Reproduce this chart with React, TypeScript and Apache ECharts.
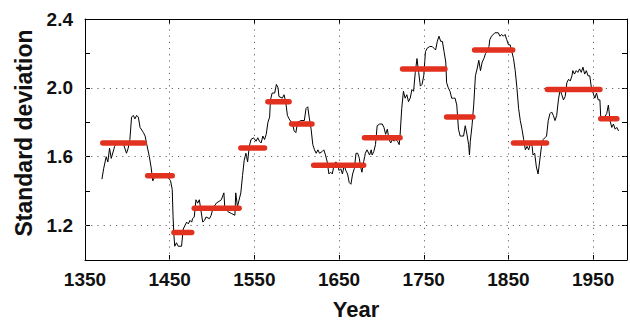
import React, { useEffect, useRef } from "react";
import * as echarts from "echarts";

// Running standard deviation (black line)
const years: number[] = [
  1370, 1372, 1375, 1377, 1379, 1381, 1385, 1389, 1395, 1399, 1401, 1403, 1405, 1407, 1409, 1411, 1413, 1415, 1419, 1421,
  1423, 1426, 1428, 1430, 1432, 1440, 1448, 1451, 1453, 1454, 1455, 1456, 1458, 1460, 1464, 1466, 1468, 1470, 1472, 1474,
  1476, 1477, 1479, 1481, 1483, 1485, 1489, 1491, 1493, 1497, 1499, 1501, 1505, 1511, 1514, 1515, 1519, 1523, 1527, 1528,
  1530, 1534, 1536, 1538, 1540, 1542, 1544, 1546, 1549, 1552, 1554, 1556, 1558, 1560, 1562, 1564, 1566, 1568, 1569, 1571,
  1574, 1576, 1578, 1579, 1583, 1585, 1587, 1589, 1591, 1595, 1597, 1599, 1601, 1605, 1609, 1611, 1613, 1615, 1617, 1619,
  1621, 1623, 1625, 1627, 1630, 1632, 1634, 1636, 1638, 1640, 1642, 1644, 1646, 1648, 1650, 1652, 1654, 1656, 1658, 1660,
  1662, 1664, 1666, 1668, 1670, 1672, 1674, 1675, 1677, 1679, 1681, 1683, 1686, 1688, 1689, 1691, 1693, 1695, 1698, 1701,
  1703, 1705, 1707, 1709, 1711, 1713, 1715, 1717, 1719, 1721, 1722, 1724, 1726, 1728, 1730, 1732, 1734, 1736, 1738, 1740,
  1742, 1744, 1746, 1748, 1750, 1752, 1754, 1757, 1760, 1762, 1764, 1766, 1768, 1770, 1772, 1774, 1776, 1777, 1779, 1781,
  1783, 1785, 1787, 1789, 1791, 1793, 1795, 1797, 1799, 1801, 1803, 1804, 1805, 1807, 1809, 1811, 1813, 1815, 1817, 1819,
  1821, 1823, 1825, 1827, 1828, 1830, 1834, 1838, 1840, 1842, 1844, 1846, 1848, 1850, 1852, 1854, 1856, 1858, 1860, 1862,
  1864, 1866, 1868, 1870, 1872, 1874, 1876, 1878, 1879, 1881, 1883, 1885, 1887, 1889, 1891, 1893, 1895, 1897, 1899, 1901,
  1903, 1905, 1907, 1909, 1911, 1913, 1915, 1917, 1919, 1921, 1923, 1925, 1926, 1928, 1930, 1932, 1934, 1936, 1938, 1940,
  1942, 1944, 1946, 1948, 1950, 1952, 1954, 1956, 1958, 1959, 1962, 1966, 1968, 1970, 1972, 1974, 1976, 1978, 1980,
];
const stdValues: number[] = [
  1.47, 1.53, 1.60, 1.57, 1.65, 1.59, 1.66, 1.69, 1.68, 1.62, 1.65, 1.70, 1.83, 1.84, 1.82, 1.84, 1.83, 1.77, 1.74, 1.72,
  1.67, 1.60, 1.54, 1.46, 1.48, 1.48, 1.48, 1.46, 1.41, 1.25, 1.14, 1.08, 1.10, 1.08, 1.08, 1.18, 1.20, 1.22, 1.21, 1.23,
  1.22, 1.24, 1.25, 1.35, 1.33, 1.35, 1.22, 1.23, 1.25, 1.24, 1.26, 1.30, 1.33, 1.35, 1.39, 1.31, 1.28, 1.27, 1.26, 1.39,
  1.31, 1.39, 1.49, 1.58, 1.62, 1.57, 1.66, 1.70, 1.71, 1.69, 1.71, 1.69, 1.68, 1.72, 1.70, 1.73, 1.80, 1.83, 1.93, 1.97,
  1.97, 2.02, 2.00, 1.95, 1.94, 1.96, 1.92, 1.84, 1.82, 1.79, 1.75, 1.74, 1.80, 1.81, 1.81, 1.88, 1.89, 1.82, 1.76, 1.67,
  1.64, 1.62, 1.64, 1.62, 1.63, 1.64, 1.61, 1.57, 1.50, 1.51, 1.50, 1.55, 1.57, 1.56, 1.52, 1.53, 1.50, 1.55, 1.52, 1.50,
  1.45, 1.44, 1.50, 1.53, 1.62, 1.62, 1.59, 1.55, 1.51, 1.57, 1.62, 1.64, 1.61, 1.64, 1.61, 1.63, 1.67, 1.78, 1.79, 1.79,
  1.77, 1.73, 1.76, 1.70, 1.68, 1.70, 1.69, 1.70, 1.69, 1.67, 1.72, 1.88, 1.98, 1.94, 1.96, 1.92, 1.94, 1.99, 1.98, 2.09,
  2.17, 2.09, 2.01, 2.02, 2.07, 2.21, 2.23, 2.24, 2.24, 2.23, 2.22, 2.27, 2.30, 2.27, 2.27, 2.21, 2.15, 2.03, 2.00, 1.98,
  1.94, 1.94, 1.94, 1.90, 1.76, 1.72, 1.72, 1.72, 1.78, 1.73, 1.67, 1.61, 1.69, 1.78, 1.90, 2.07, 2.11, 2.16, 2.10, 2.15,
  2.17, 2.20, 2.21, 2.24, 2.28, 2.30, 2.32, 2.32, 2.30, 2.31, 2.30, 2.31, 2.28, 2.25, 2.25, 2.21, 2.17, 2.10, 2.00, 1.88,
  1.81, 1.76, 1.70, 1.64, 1.66, 1.64, 1.68, 1.66, 1.61, 1.62, 1.54, 1.50, 1.58, 1.66, 1.70, 1.71, 1.72, 1.81, 1.85, 1.86,
  1.84, 1.81, 1.84, 1.93, 1.99, 1.96, 1.93, 1.95, 2.03, 2.05, 2.04, 2.07, 2.10, 2.08, 2.10, 2.09, 2.11, 2.09, 2.12, 2.08,
  2.10, 2.07, 2.07, 2.00, 1.97, 1.94, 1.97, 1.93, 1.93, 1.83, 1.82, 1.85, 1.90, 1.81, 1.77, 1.79, 1.76, 1.77, 1.75,
];

// Period means (red segments)
const segStart: number[] = [1371, 1424, 1455, 1479, 1534, 1566, 1594, 1620, 1680, 1725, 1777, 1810, 1856, 1896, 1959];
const segEnd: number[] = [1420, 1453, 1476, 1532, 1562, 1591, 1618, 1679, 1722, 1775, 1808, 1855, 1895, 1958, 1978];
const segValue: number[] = [1.68, 1.49, 1.16, 1.30, 1.65, 1.92, 1.79, 1.55, 1.71, 2.11, 1.83, 2.22, 1.68, 1.99, 1.82];

// Axes
const xTickLabels: number[] = [1350, 1450, 1550, 1650, 1750, 1850, 1950];
const yTickLabels: number[] = [1.2, 1.6, 2.0, 2.4];
const xGridLines: number[] = [1450, 1550, 1650, 1750, 1850, 1950];
const yGridLines: number[] = [1.2, 1.6, 2.0];

const FONT = "'Liberation Sans', Arial, Helvetica, sans-serif";
const RED = "#E2311F";

export default function App() {
  const ref = useRef<HTMLDivElement>(null);
  useEffect(() => {
    if (!ref.current) return;
    const chart = echarts.init(ref.current, null, { renderer: "svg" });

    const axisCommon = {
      type: "value" as const,
      axisLine: { show: true, onZero: false, lineStyle: { color: "#000", width: 1 } },
      axisTick: { show: true, inside: true, length: 5, lineStyle: { color: "#000", width: 1 } },
      splitLine: { show: false },
    };

    const redSeries = segStart.map((s, i) => ({
      type: "line" as const,
      data: [
        [s, segValue[i]],
        [segEnd[i], segValue[i]],
      ],
      symbol: "none",
      silent: true,
      z: 5,
      lineStyle: { color: RED, width: 5.5, cap: "round" as const },
    }));

    chart.setOption({
      animation: false,
      backgroundColor: "#fff",
      grid: { left: 85, right: 1, top: 19, bottom: 62, containLabel: false },
      xAxis: [
        {
          ...axisCommon,
          position: "bottom",
          min: 1350,
          max: 1990,
          interval: 100,
          axisLabel: {
            show: true,
            margin: 10,
            color: "#111",
            fontFamily: FONT,
            fontWeight: "bold",
            fontSize: 19,
            formatter: (v: number) => (xTickLabels.includes(v) ? String(v) : ""),
          },
        },
        {
          ...axisCommon,
          position: "top",
          min: 1350,
          max: 1990,
          interval: 100,
          axisLabel: { show: false },
        },
      ],
      yAxis: [
        {
          ...axisCommon,
          position: "left",
          min: 1.0,
          max: 2.4,
          interval: 0.2,
          axisLabel: {
            show: true,
            margin: 12,
            color: "#111",
            fontFamily: FONT,
            fontWeight: "bold",
            fontSize: 19,
            formatter: (v: number) =>
              yTickLabels.some((t) => Math.abs(t - v) < 1e-6) ? v.toFixed(1) : "",
          },
        },
        {
          ...axisCommon,
          position: "right",
          min: 1.0,
          max: 2.4,
          interval: 0.2,
          axisLabel: { show: false },
        },
      ],
      graphic: [
        {
          type: "text",
          x: 356,
          y: 309,
          style: {
            text: "Year",
            font: `bold 22px ${FONT}`,
            fill: "#111",
            align: "center",
            verticalAlign: "middle",
          },
        },
        {
          type: "text",
          x: 24,
          y: 133,
          rotation: Math.PI / 2,
          style: {
            text: "Standard deviation",
            font: `bold 23px ${FONT}`,
            fill: "#111",
            align: "center",
            verticalAlign: "middle",
          },
        },
      ],
      series: [
        {
          type: "line",
          data: years.map((y, i) => [y, stdValues[i]]),
          symbol: "none",
          silent: true,
          z: 3,
          lineStyle: { color: "#000", width: 1 },
          markLine: {
            silent: true,
            symbol: "none",
            label: { show: false },
            lineStyle: { color: "#666", width: 1, type: [1.2, 5] },
            data: [
              ...xGridLines.map((x) => ({ xAxis: x })),
              ...yGridLines.map((y) => ({ yAxis: y })),
            ],
          },
        },
        ...redSeries,
      ],
    });
    return () => chart.dispose();
  }, []);
  return <div ref={ref} style={{ width: 630, height: 322, position: "absolute", left: 0, top: 0 }} />;
}
